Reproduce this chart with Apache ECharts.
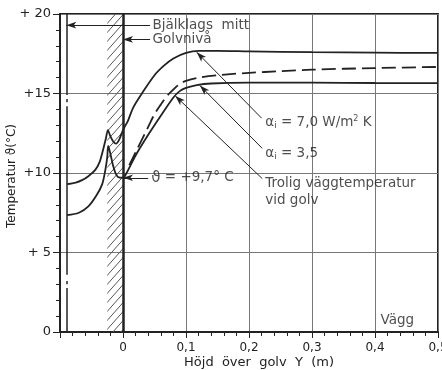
<!DOCTYPE html>
<html><head><meta charset="utf-8">
<script src="https://cdn.jsdelivr.net/npm/echarts@6/dist/echarts.min.js"></script>
<style>html,body{margin:0;padding:0;background:#fff}#c{width:442px;height:370px}</style>
</head><body><div id="c"></div>
<script>
// ---- tick labels ----
const yTickValues = [0, 5, 10, 15, 20];
const yTickLabels = ['0', '+ 5', '+10', '+15', '+ 20'];
const xTickValues = [-0.1, 0, 0.1, 0.2, 0.3, 0.4, 0.5];
const xTickLabels = ['', '0', '0,1', '0,2', '0,3', '0,4', '0,5'];

// ---- series values [height Y (m), temperature (°C)] ----
const alpha7 = [
  [-0.089, 9.3], [-0.075, 9.4], [-0.065, 9.55], [-0.055, 9.8], [-0.044, 10.2], [-0.037, 10.7],
  [-0.032, 11.4], [-0.027, 12.2], [-0.024, 12.7], [-0.020, 12.3], [-0.015, 11.95], [-0.011, 11.85],
  [-0.006, 12.1], [0.0, 12.7], [0.008, 13.3], [0.016, 14.1], [0.03, 15.0], [0.05, 16.15],
  [0.065, 16.75], [0.08, 17.2], [0.1, 17.55], [0.12, 17.68], [0.15, 17.68], [0.2, 17.65],
  [0.3, 17.6], [0.4, 17.57], [0.5, 17.55]
];
const alpha35 = [
  [-0.089, 7.35], [-0.07, 7.5], [-0.055, 7.9], [-0.042, 8.6], [-0.033, 9.3], [-0.028, 10.2],
  [-0.025, 11.0], [-0.0235, 11.7], [-0.02, 11.2], [-0.016, 10.5], [-0.012, 10.0], [-0.008, 9.75],
  [0.0, 9.7], [0.005, 9.95], [0.02, 11.1], [0.04, 12.4], [0.06, 13.6], [0.08, 14.75],
  [0.09, 15.15], [0.1, 15.35], [0.117, 15.53], [0.14, 15.63], [0.2, 15.68], [0.3, 15.68],
  [0.4, 15.66], [0.5, 15.65]
];
const trolig = [
  [0.01, 10.5], [0.02, 11.3], [0.04, 12.9], [0.05, 13.7], [0.06, 14.3], [0.07, 14.85],
  [0.08, 15.25], [0.09, 15.6], [0.1, 15.8], [0.12, 16.0], [0.15, 16.15], [0.2, 16.3],
  [0.25, 16.4], [0.3, 16.5], [0.4, 16.6], [0.5, 16.67]
];
const floorTemp = 9.7;
const joistMidX = -0.09;
const floorX = 0;
const hatchFromX = -0.025;

// ---- styling / annotation layout ----
const FONT = 'DejaVu Sans';
const INK = '#222';
const annotations = [
  { x: 0.046, y: 19.3, t: 'Bjälklags  mitt' },
  { x: 0.046, y: 18.4, t: 'Golvnivå' },
  { x: 0.044, y: floorTemp, t: '{b|ϑ} = +9,7° C' },
  { x: 0.225, y: 13.2, t: 'α{s|i} = 7,0 W/m{p|2} K' },
  { x: 0.225, y: 11.25, t: 'α{s|i} = 3,5' },
  { x: 0.225, y: 9.37, t: 'Trolig väggtemperatur' },
  { x: 0.225, y: 8.3, t: 'vid golv' },
  { x: 0.408, y: 0.75, t: 'Vägg' }
];
const arrows = [
  [[joistMidX, 19.3], [0.043, 19.3]],
  [[floorX, 18.4], [0.043, 18.4]],
  [[floorX, floorTemp], [0.040, floorTemp]],
  [[0.117, 17.6], [0.220, 13.45]],
  [[0.122, 15.5], [0.221, 11.55]],
  [[0.083, 14.85], [0.221, 9.65]]
];
const joistSegments = [[20, 14.9], [14.65, 14.45], [14.2, 3.6], [3.2, 3.0], [2.77, 0]];

function hatchCanvas() {
  const c = document.createElement('canvas');
  c.width = 8; c.height = 9;
  const g = c.getContext('2d');
  g.strokeStyle = '#555'; g.lineWidth = 1;
  g.beginPath();
  g.moveTo(0, 9); g.lineTo(8, 0);
  g.moveTo(-1, 1.1); g.lineTo(1, -1.1);
  g.moveTo(7, 10.1); g.lineTo(9, 7.9);
  g.stroke();
  return c;
}

const chart = echarts.init(document.getElementById('c'));
const labelFor = (vals, labs) => v => {
  const i = vals.findIndex(t => Math.abs(t - v) < 1e-6);
  return i >= 0 ? labs[i] : '';
};

const lineData = [];
joistSegments.forEach(s => lineData.push([
  { coord: [joistMidX, s[0]], symbol: 'none' },
  { coord: [joistMidX, s[1]], symbol: 'none', lineStyle: { width: 1.5, color: INK } }
]));
lineData.push([
  { coord: [floorX, 0], symbol: 'none' },
  { coord: [floorX, 20], symbol: 'none', lineStyle: { width: 2.5, color: INK } }
]);
arrows.forEach(a => lineData.push([
  { coord: a[0], symbol: 'arrow', symbolSize: [5, 10] },
  { coord: a[1], symbol: 'none', lineStyle: { width: 1, color: INK } }
]));

chart.setOption({
  animation: false,
  backgroundColor: '#fff',
  grid: { left: 60, right: 4, top: 14, bottom: 38, show: true, borderColor: INK, borderWidth: 2, containLabel: false, outerBoundsMode: 'none' },
  xAxis: {
    type: 'value', min: -0.1, max: 0.5, interval: 0.1,
    axisLine: { show: true, onZero: false, lineStyle: { color: INK, width: 2 } },
    axisTick: { show: true, length: 6, lineStyle: { color: INK, width: 1 } },
    minorTick: { show: true, splitNumber: 5, length: 4, lineStyle: { color: INK, width: 1 } },
    axisLabel: { formatter: labelFor(xTickValues, xTickLabels), color: INK, fontFamily: FONT, fontSize: 12, margin: 10 },
    splitLine: { show: true, lineStyle: { color: '#777', width: 1 } },
    name: 'Höjd  över  golv  Y  (m)', nameLocation: 'middle', nameGap: 24, nameMoveOverlap: false,
    nameTextStyle: { color: INK, fontFamily: FONT, fontSize: 13, padding: [0, 0, 0, 20] }
  },
  yAxis: {
    type: 'value', min: 0, max: 20, interval: 5,
    axisLine: { show: true, onZero: false, lineStyle: { color: INK, width: 2 } },
    axisTick: { show: true, length: 7, lineStyle: { color: INK, width: 1 } },
    minorTick: { show: true, splitNumber: 5, length: 4, lineStyle: { color: INK, width: 1 } },
    axisLabel: { formatter: labelFor(yTickValues, yTickLabels), color: INK, fontFamily: FONT, fontSize: 13, margin: 9 },
    splitLine: { show: true, lineStyle: { color: '#777', width: 1 } },
    name: 'Temperatur ϑ(°C)', nameLocation: 'middle', nameGap: 42, nameRotate: 90, nameMoveOverlap: false,
    nameTextStyle: { color: INK, fontFamily: FONT, fontSize: 12, padding: [0, 6, 0, 0] }
  },
  series: [
    {
      type: 'line', data: [], silent: true,
      markArea: {
        silent: true,
        itemStyle: { color: { image: hatchCanvas(), repeat: 'repeat' } },
        data: [[{ coord: [hatchFromX, 0] }, { coord: [floorX, 20] }]]
      }
    },
    {
      type: 'line', data: [], silent: true,
      markLine: {
        silent: true, animation: false, label: { show: false },
        lineStyle: { color: INK, type: 'solid' },
        emphasis: { disabled: true },
        data: lineData
      }
    },
    { name: 'α=7,0', type: 'line', data: alpha7, smooth: 0.3, symbol: 'none', lineStyle: { color: INK, width: 1.8 } },
    { name: 'α=3,5', type: 'line', data: alpha35, smooth: 0.3, symbol: 'none', lineStyle: { color: INK, width: 1.8 } },
    { name: 'Trolig', type: 'line', data: trolig, smooth: 0.3, symbol: 'none', lineStyle: { color: INK, width: 1.8, type: [14, 6] } },
    {
      type: 'scatter', silent: true, symbolSize: 1, itemStyle: { color: 'rgba(0,0,0,0)' },
      data: annotations.map(a => ({ value: [a.x, a.y], name: a.t })),
      label: {
        show: true, position: 'right', distance: 0, formatter: '{b}',
        color: INK, fontFamily: FONT, fontSize: 13.5,
        rich: {
          b: { fontSize: 15, fontFamily: FONT, color: INK },
          s: { fontSize: 9, fontFamily: FONT, color: INK, padding: [7, 0, 0, 0] },
          p: { fontSize: 8, fontFamily: FONT, color: INK, padding: [0, 0, 6, 0] }
        }
      }
    }
  ]
});
</script>
</body></html>
